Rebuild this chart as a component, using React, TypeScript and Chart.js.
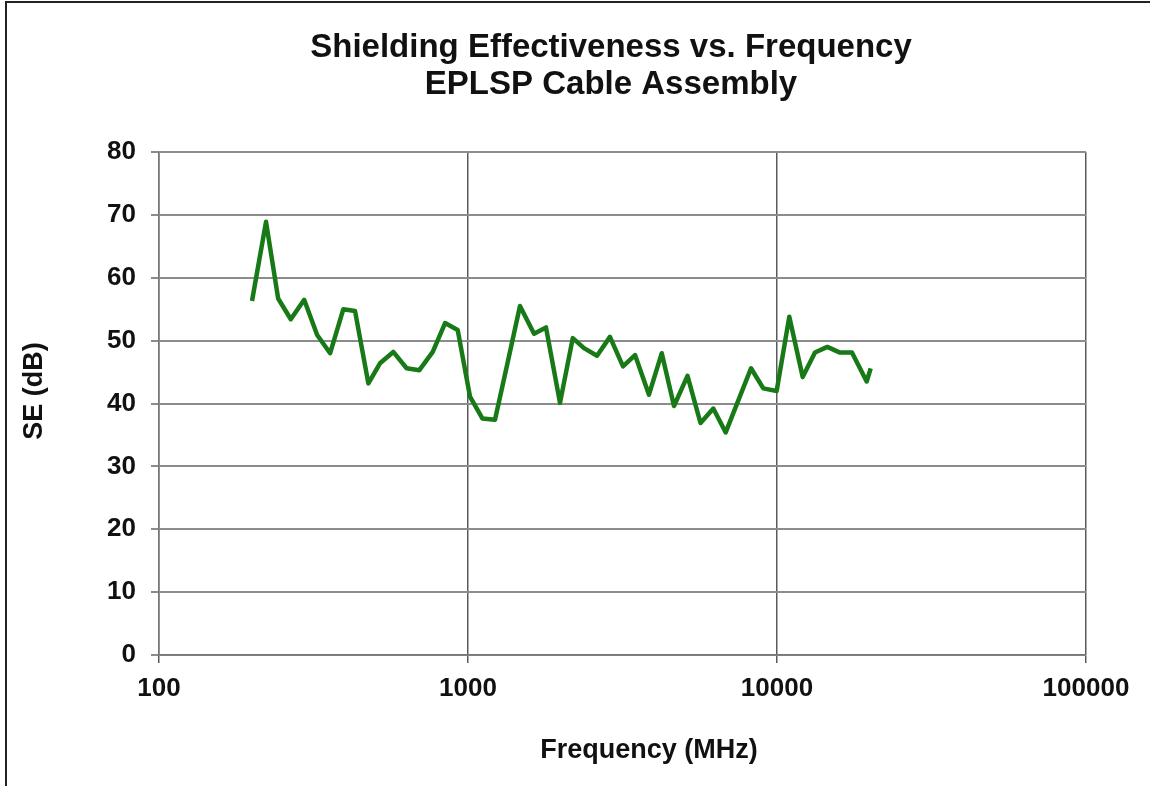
import React, { useEffect, useRef } from "react";
import { Chart, registerables } from "chart.js";

Chart.register(...registerables);

const titleLines = ["Shielding Effectiveness vs. Frequency", "EPLSP Cable Assembly"];
const xAxisTitle = "Frequency (MHz)";
const yAxisTitle = "SE (dB)";

const freqMHz = [
  200, 222, 243, 267, 295, 325, 358, 395, 431, 476,
  519, 573, 633, 696, 769, 843, 926, 1015, 1114, 1223,
  1342, 1473, 1636, 1788, 1985, 2183, 2374, 2615, 2880, 3174,
  3472, 3852, 4237, 4642, 5133, 5655, 6222, 6823, 7497, 8240,
  9030, 9977, 10960, 12110, 13270, 14550, 15990, 17480, 19510, 20100,
];
const seDb = [
  56.3, 68.9, 56.7, 53.4, 56.5, 50.9, 48.0, 55.0, 54.7, 43.2,
  46.4, 48.2, 45.6, 45.3, 48.2, 52.8, 51.7, 41.1, 37.6, 37.4,
  46.4, 55.5, 51.1, 52.1, 40.1, 50.4, 48.8, 47.6, 50.6, 45.9,
  47.7, 41.4, 48.0, 39.6, 44.4, 36.9, 39.2, 35.4, 40.5, 45.6,
  42.4, 42.0, 53.8, 44.2, 48.1, 49.0, 48.1, 48.1, 43.5, 45.6,
];
const xTickValues = [100, 1000, 10000, 100000];
const yMin = 0;
const yMax = 80;
const yStep = 10;

const FONT = "'Liberation Sans', Arial, Helvetica, sans-serif";

const textPlugin = {
  id: "customText",
  afterDraw(chart: any) {
    const ctx = chart.ctx;
    ctx.save();
    ctx.fillStyle = "#111";
    ctx.textAlign = "center";
    ctx.textBaseline = "alphabetic";
    ctx.font = `bold 33px ${FONT}`;
    ctx.fillText(titleLines[0], 611, 57);
    ctx.fillText(titleLines[1], 611, 94);
    ctx.font = `bold 27px ${FONT}`;
    ctx.fillText(xAxisTitle, 649, 758);
    ctx.translate(42, 391);
    ctx.rotate(-Math.PI / 2);
    ctx.fillText(yAxisTitle, 0, 0);
    ctx.restore();
  },
};

const bgPlugin = {
  id: "bg",
  beforeDraw(chart: any) {
    const ctx = chart.ctx;
    ctx.save();
    ctx.fillStyle = "#fff";
    ctx.fillRect(0, 0, chart.width, chart.height);
    ctx.restore();
  },
};

export default function App() {
  const ref = useRef<HTMLCanvasElement | null>(null);

  useEffect(() => {
    document.body.style.margin = "0";
    const canvas = ref.current;
    if (!canvas) return;
    const chart = new Chart(canvas, {
      type: "line",
      data: {
        datasets: [
          {
            label: "SE",
            data: freqMHz.map((f, i) => ({ x: f, y: seDb[i] })),
            borderColor: "#177a17",
            backgroundColor: "#177a17",
            borderWidth: 4.5,
            borderJoinStyle: "round",
            pointRadius: 0,
            tension: 0,
            fill: false,
          },
        ],
      },
      options: {
        animation: false,
        responsive: false,
        maintainAspectRatio: false,
        layout: { padding: { left: 0, top: 152, right: 64, bottom: 0 } },
        plugins: {
          legend: { display: false },
          title: { display: false },
          tooltip: { enabled: false },
        },
        scales: {
          x: {
            type: "logarithmic",
            min: 100,
            max: 100000,
            afterBuildTicks: (scale: any) => {
              scale.ticks = xTickValues.map((v) => ({ value: v }));
            },
            afterFit: (scale: any) => {
              scale.height = 131;
            },
            ticks: {
              callback: (v: any) => String(v),
              font: { family: FONT, size: 26, weight: "bold" },
              color: "#111",
              padding: 10,
              maxRotation: 0,
              autoSkip: false,
            },
            grid: {
              color: "#5a5a5a",
              lineWidth: 1.5,
              tickLength: 8,
              drawTicks: true,
            },
            border: { display: true, color: "#777", width: 1.5 },
          },
          y: {
            type: "linear",
            min: yMin,
            max: yMax,
            afterFit: (scale: any) => {
              scale.width = 159;
            },
            ticks: {
              stepSize: yStep,
              font: { family: FONT, size: 26, weight: "bold" },
              color: "#111",
              padding: 15,
            },
            grid: {
              color: "#8c8c8c",
              lineWidth: 2,
              tickLength: 8,
              drawTicks: true,
            },
            border: { display: true, color: "#777", width: 1.5 },
          },
        },
      },
      plugins: [bgPlugin, textPlugin],
    });
    return () => chart.destroy();
  }, []);

  return (
    <div style={{ position: "fixed", left: 0, top: 0, width: 1150, height: 786, background: "#fff" }}>
      <canvas ref={ref} width={1150} height={786} style={{ display: "block", width: 1150, height: 786 }} />
      <div
        style={{
          position: "absolute",
          left: 5,
          top: 1,
          right: 0,
          bottom: 0,
          borderLeft: "2px solid #222",
          borderTop: "2px solid #222",
          pointerEvents: "none",
        }}
      />
    </div>
  );
}
